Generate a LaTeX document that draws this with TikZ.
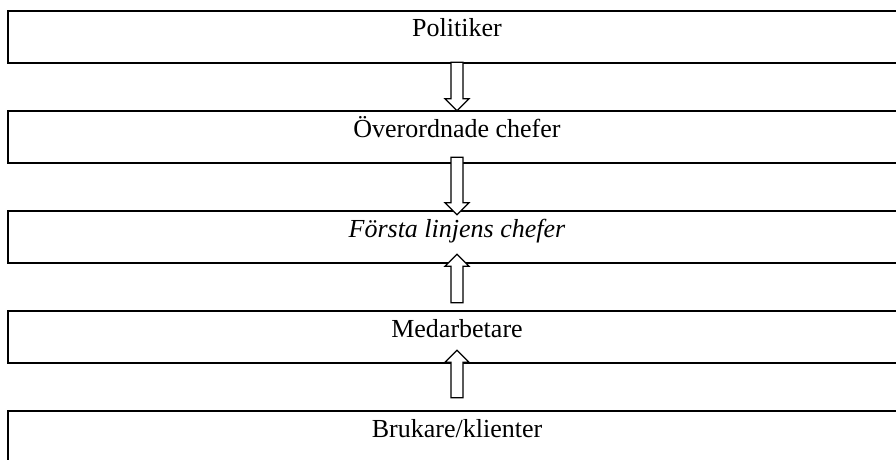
\documentclass[tikz,border=0pt]{standalone}
\usepackage{fontspec}
\setmainfont{Liberation Serif}
\usetikzlibrary{calc}
\tikzstyle{level}=[rectangle,minimum width=898pt,inner xsep=0pt,inner ysep=0pt,text height=26pt,text depth=26pt,font=\fontsize{26}{30}\selectfont]
\tikzstyle{frame}=[draw=black,line width=2pt,line join=miter]
\tikzstyle{blockarrow}=[draw=black,fill=white,line width=1.3pt,line join=miter]
% hollow block arrow from #1 (base) to #2 (tip)
\newcommand{\blockarrow}[2]{%
  \draw[blockarrow] let \p1=(#1), \p2=(#2), \n1={ifthenelse(\y2>\y1,1,-1)} in
    (\x1-6pt,\y1) -- (\x1-6pt,\y2-\n1*12pt) -- (\x1-12pt,\y2-\n1*12pt) -- (\x2,\y2)
    -- (\x1+12pt,\y2-\n1*12pt) -- (\x1+6pt,\y2-\n1*12pt) -- (\x1+6pt,\y1) -- cycle;}

\begin{document}
\begin{tikzpicture}[x=1pt,y=1pt]
      \useasboundingbox (0,0) rectangle (896,459);
      \clip (0,0) rectangle (896,459);
      \node[level] at (457,422) (pol) {Politiker};
      \node[level] at (457,322) (chef) {Överordnade chefer};
      \node[level] at (457,222) (forst) {\textit{Första linjens chefer}};
      \node[level] at (457,122) (med) {Medarbetare};
      \node[level] at (457,22) (bruk) {Brukare/klienter};
      % boxes run out past the right edge
      \foreach \n in {pol,chef,forst,med,bruk}
        \draw[frame] ([xshift=30pt]\n.north east) -- (\n.north west)
          -- (\n.south west) -- ([xshift=30pt]\n.south east);
      \blockarrow{$(pol.south)+(0,1)$}{chef.north}
      \blockarrow{$(chef.south)+(0,6)$}{$(forst.north)+(0,-4)$}
      \blockarrow{$(med.north)+(0,8)$}{$(forst.south)+(0,9)$}
      \blockarrow{$(bruk.north)+(0,13)$}{$(med.south)+(0,13)$}
    \end{tikzpicture}
\end{document}
